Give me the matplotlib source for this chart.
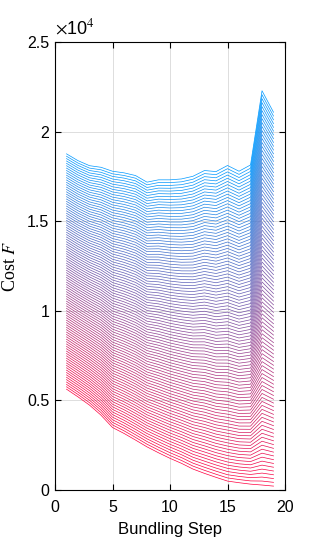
import numpy as np
import matplotlib
matplotlib.use("Agg")
import matplotlib.pyplot as plt

steps = list(range(1, 20))
cost_top = [18760, 18380, 18100, 18010, 17790, 17700, 17550, 17180, 17310, 17310,
            17360, 17510, 17830, 17770, 18110, 17790, 18140, 22280, 21080]
cost_bottom = [5630, 5200, 4740, 4180, 3490, 3160, 2790, 2410, 2080, 1770,
               1490, 1170, 930, 710, 500, 410, 330, 280, 220]
n_lines = 100
color_bottom = (1.0, 0.0, 0.25)
color_top = (0.0, 0.6, 1.0)

yticks = [0, 5000, 10000, 15000, 20000, 25000]
yticklabels = ["0", "0.5", "1", "1.5", "2", "2.5"]
xticks = [0, 5, 10, 15, 20]

plt.rcParams['font.family'] = ['Liberation Sans', 'DejaVu Sans']
plt.rcParams['mathtext.fontset'] = 'stix'
fig = plt.figure(figsize=(3.15, 5.5), dpi=100)
ax = fig.add_axes([0.1746, 0.109, 0.7302, 0.8146])

top = np.array(cost_top, dtype=float)
bot = np.array(cost_bottom, dtype=float)
ct = np.array(color_top)
cb = np.array(color_bottom)
for i in range(n_lines):
    t = i / (n_lines - 1)
    y = bot + t * (top - bot)
    c = cb + t * (ct - cb)
    ax.plot(steps, y, color=c, lw=0.5, zorder=2)

ax.set_xlim(0, 20)
ax.set_ylim(0, 25000)
ax.set_xticks(xticks)
ax.set_xticklabels([str(v) for v in xticks])
ax.set_yticks(yticks)
ax.set_yticklabels(yticklabels)
ax.tick_params(direction='in', length=4, labelsize=11.5, width=0.8)
ax.tick_params(axis='x', pad=7)
ax.tick_params(axis='y', pad=4)
ax.tick_params(top=True, right=True)
ax.grid(True, color='#dddddd', lw=0.7, zorder=0)
ax.set_axisbelow(True)
for s in ax.spines.values():
    s.set_linewidth(0.8)

ax.set_xlabel("Bundling Step", fontsize=12, labelpad=5)
ax.set_ylabel("Cost $F$", fontsize=13, family='Liberation Serif', labelpad=6)
ax.text(0.0, 1.008, r"$\times$10$^4$", transform=ax.transAxes, fontsize=13,
        ha='left', va='bottom')

fig.savefig("out.png", dpi=100)
